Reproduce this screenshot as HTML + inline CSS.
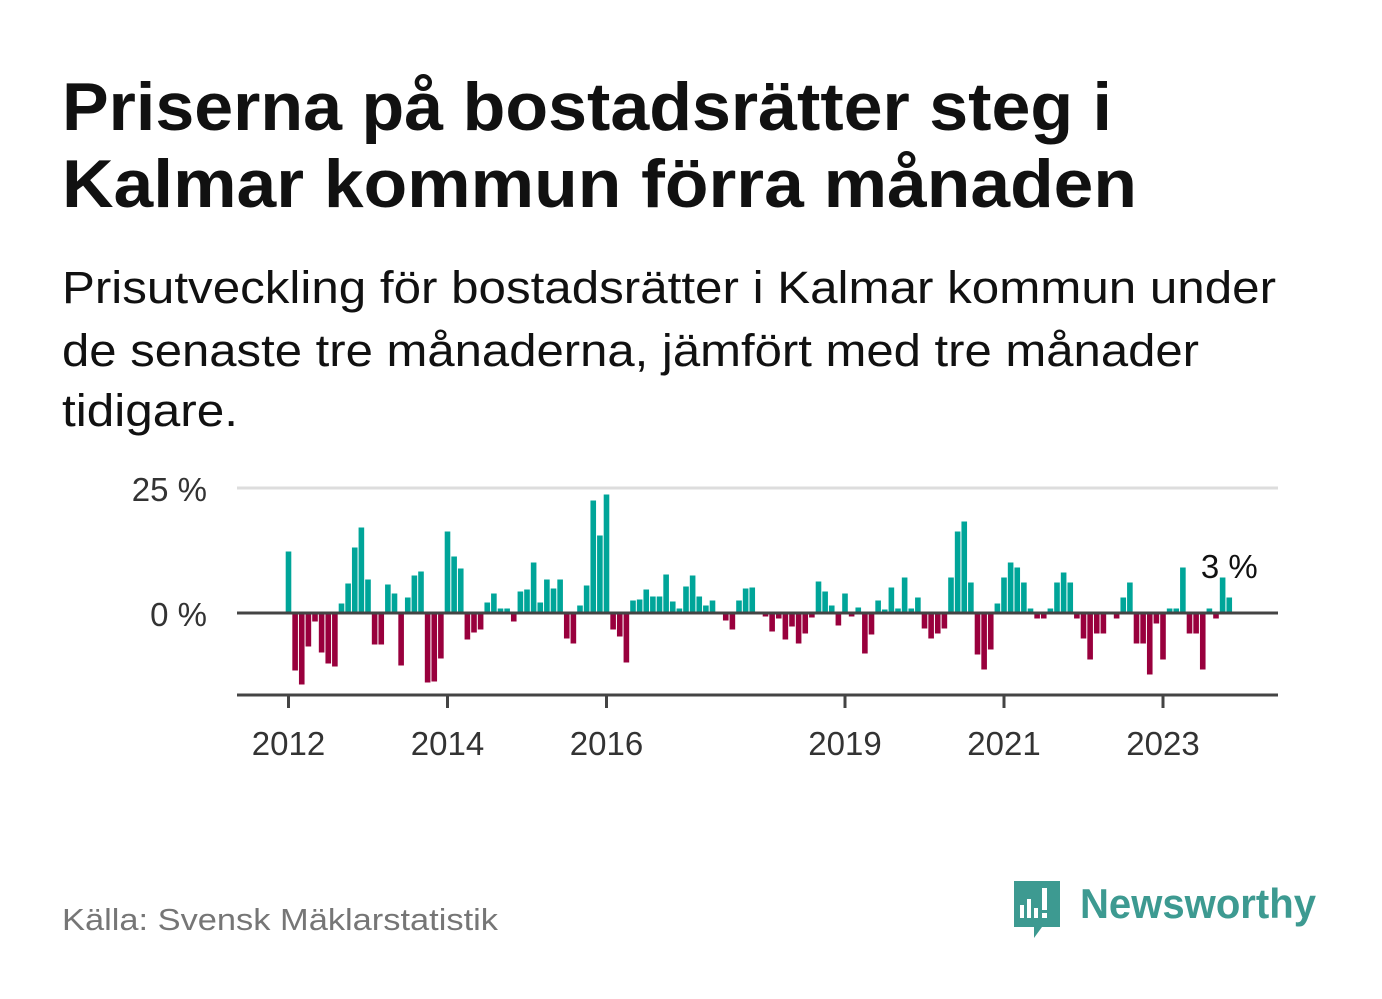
<!DOCTYPE html>
<html><head><meta charset="utf-8"><style>
html,body{margin:0;padding:0;background:#fff;}
svg{display:block;font-family:"Liberation Sans",sans-serif;}
</style></head><body>
<svg id="chart" width="1382" height="999" viewBox="0 0 1382 999">
<text x="62" y="130" font-size="68" font-weight="bold" fill="#111" textLength="1050" lengthAdjust="spacingAndGlyphs">Priserna på bostadsrätter steg i</text>
<text x="62" y="207" font-size="68" font-weight="bold" fill="#111" textLength="1075" lengthAdjust="spacingAndGlyphs">Kalmar kommun förra månaden</text>
<text x="62" y="303" font-size="45" fill="#111" textLength="1214" lengthAdjust="spacingAndGlyphs">Prisutveckling för bostadsrätter i Kalmar kommun under</text>
<text x="62" y="366" font-size="45" fill="#111" textLength="1137" lengthAdjust="spacingAndGlyphs">de senaste tre månaderna, jämfört med tre månader</text>
<text x="62" y="426" font-size="45" fill="#111" textLength="176" lengthAdjust="spacingAndGlyphs">tidigare.</text>
<g id="plot"></g>
<text x="62" y="930" font-size="31" fill="#767676" textLength="436" lengthAdjust="spacingAndGlyphs">Källa: Svensk Mäklarstatistik</text>
<g>
<path d="M1014 881 h46 v46 h-18 l-8 11 v-11 h-20 z" fill="#3d9a91"/>
<rect x="1020" y="905" width="4" height="13" fill="#fff"/>
<rect x="1027" y="899" width="4" height="19" fill="#fff"/>
<rect x="1034" y="908" width="4" height="10" fill="#fff"/>
<rect x="1042" y="888" width="5" height="22" fill="#fff"/>
<rect x="1042" y="913" width="5" height="5" fill="#fff"/>
<text x="1080" y="918" font-size="42" font-weight="bold" fill="#3d9a91" textLength="236" lengthAdjust="spacingAndGlyphs">Newsworthy</text>
</g>
</svg>
<script>
const values = [
12.3,-11.5,-14.3,-6.7,-1.7,-7.9,-10.1,-10.7,1.9,5.9,13.1,17.1,
6.7,-6.3,-6.3,5.7,3.9,-10.5,3.1,7.5,8.3,-13.9,-13.7,-9.1,
16.3,11.3,8.9,-5.3,-3.9,-3.3,2.1,3.9,0.9,0.9,-1.7,4.3,
4.7,10.1,2.1,6.7,4.9,6.7,-5.1,-6.1,1.5,5.5,22.5,15.5,
23.7,-3.3,-4.7,-9.9,2.5,2.7,4.7,3.3,3.3,7.7,2.3,0.9,
5.3,7.5,3.3,1.5,2.5,0,-1.5,-3.3,2.5,4.9,5.1,0,
-0.7,-3.7,-1.1,-5.3,-2.7,-6.1,-4.1,-0.9,6.3,4.3,1.5,-2.5,
3.9,-0.7,1.1,-8.1,-4.3,2.5,0.7,5.1,0.9,7.1,0.9,3.1,
-3.1,-5.1,-4.1,-3.1,7.1,16.3,18.3,6.1,-8.3,-11.3,-7.3,1.9,
7.1,10.1,9.1,6.1,0.9,-1.1,-1.1,0.9,6.1,8.1,6.1,-1.1,
-5.1,-9.3,-4.1,-4.1,0,-1.1,3.1,6.1,-6.1,-6.1,-12.3,-2.1,
-9.3,0.9,0.9,9.1,-4.1,-4.1,-11.3,0.9,-1.1,7.1,3.1
];
const startYear = 2012;
const xTickYears = [2012, 2014, 2016, 2019, 2021, 2023];
const yTicks = [0, 25];
const yTickLabels = ["0 %", "25 %"];
const lastLabel = "3 %";

const NS = "http://www.w3.org/2000/svg";
const plot = document.getElementById("plot");
const monthW = 6.625, x0 = 288.5;
const x = m => x0 + m * monthW;
const y = v => 613 - v * 5;
function mk(tag, attrs, parent) {
  const el = document.createElementNS(NS, tag);
  for (const k in attrs) el.setAttribute(k, attrs[k]);
  (parent || plot).appendChild(el);
  return el;
}
yTicks.forEach((t, i) => {
  if (t !== 0) {
    const g = mk("line", {x1: 237, x2: 1278, y1: y(t), y2: y(t), stroke: "#dddddd", "stroke-width": 3});
    
    
  }
  const lb = mk("text", {x: 207, y: y(t) + 13, "text-anchor": "end", "font-size": 33, fill: "#333"});
  lb.textContent = yTickLabels[i];
  
  
});
values.forEach((v, i) => {
  const top = Math.min(y(v), y(0)), h = Math.abs(y(v) - y(0));
  const b = mk("rect", {x: x(i) - 2.8, y: top, width: 5.6, height: h, fill: v >= 0 ? "#00a599" : "#99003d"});
  
  
});
const zl = mk("line", {x1: 237, x2: 1278, y1: y(0), y2: y(0), stroke: "#444", "stroke-width": 3});


const ax = mk("line", {x1: 237, x2: 1278, y1: 695, y2: 695, stroke: "#444", "stroke-width": 3});


xTickYears.forEach(yr => {
  const px = x((yr - startYear) * 12);
  const tk = mk("line", {x1: px, x2: px, y1: 695, y2: 708, stroke: "#444", "stroke-width": 3});
  
  
  const t = mk("text", {x: px, y: 755, "text-anchor": "middle", "font-size": 33, fill: "#333"});
  t.textContent = yr;
  
  
});
const li = values.length - 1;
const ll = mk("text", {x: x(li), y: 578, "text-anchor": "middle", "font-size": 33, fill: "#111"});
ll.textContent = lastLabel;


</script>
</body></html>
